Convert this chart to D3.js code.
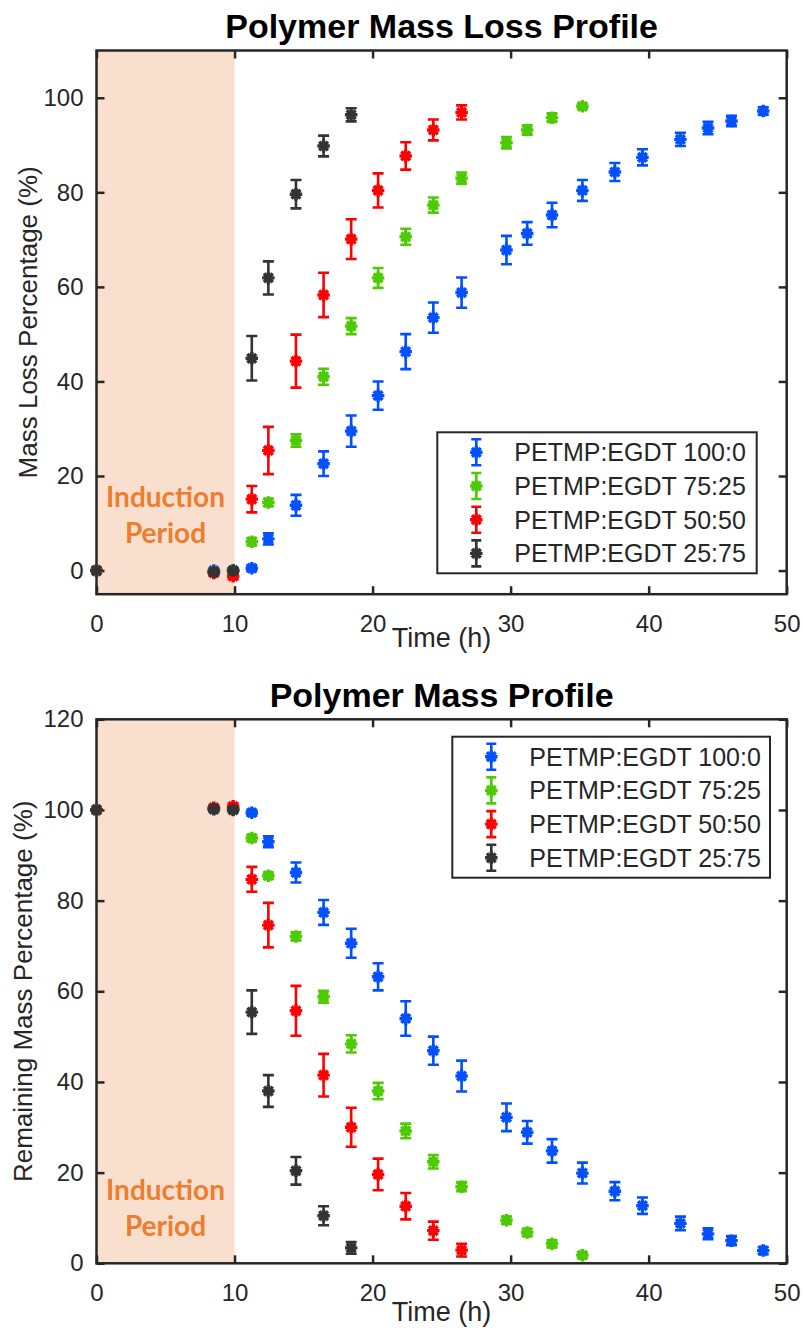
<!DOCTYPE html>
<html>
<head>
<meta charset="utf-8">
<script src="https://cdn.jsdelivr.net/npm/d3@7"></script>
<style>
  body { margin: 0; background: #fff; }
  text { font-family: "Liberation Sans", Arial, sans-serif; fill: #262626; }
</style>
</head>
<body>
<div id="chart"></div>
<script>
// sampling times (h) shared by all series; each series stops earlier
const times = [0, 8.5, 9.9, 11.25, 12.45, 14.45, 16.45, 18.45, 20.4, 22.4, 24.4, 26.45,
  29.7, 31.2, 33.0, 35.2, 37.55, 39.55, 42.3, 44.3, 46.0, 48.3];

const seriesNames = ['PETMP:EGDT 100:0', 'PETMP:EGDT 75:25', 'PETMP:EGDT 50:50', 'PETMP:EGDT 25:75'];
const seriesColors = ['#0050ff', '#4ccc00', '#ff0000', '#333333'];

// mass loss (%) and std dev
const loss100 = [0, 0, 0, 0.5, 6.7, 13.8, 22.6, 29.5, 37.0, 46.3, 53.5, 58.8, 67.8, 71.3, 75.2, 80.4, 84.3, 87.4, 91.2, 93.6, 95.1, 97.2];
const lossErr100 = [0, 0.3, 0.3, 0.6, 1.2, 2.2, 2.6, 3.3, 3.0, 3.7, 3.2, 3.2, 3.0, 2.4, 2.6, 2.2, 1.9, 1.7, 1.4, 1.3, 1.1, 0.8];
const loss75 = [0, -0.3, 0, 6.1, 14.4, 27.5, 41.0, 51.7, 61.9, 70.6, 77.3, 83.0, 90.5, 93.2, 95.8, 98.2];
const lossErr75 = [0, 0.3, 0.3, 0.8, 0.8, 1.3, 1.7, 1.7, 2.1, 1.7, 1.6, 1.2, 1.2, 1.0, 0.9, 0.6];
const loss50 = [0, -0.5, -1.2, 15.1, 25.4, 44.3, 58.3, 70.1, 80.4, 87.7, 93.2, 96.9];
const lossErr50 = [0, 0.5, 0.6, 2.8, 5.0, 5.6, 4.7, 4.2, 3.6, 2.9, 2.2, 1.5];
const loss25 = [0, -0.3, 0, 44.9, 61.9, 79.6, 89.8, 96.4];
const lossErr25 = [0, 0.3, 0.4, 4.7, 3.5, 3.0, 2.2, 1.4];

// remaining mass (%) and std dev
const mass100 = [100, 100.2, 100.2, 99.4, 93.0, 86.2, 77.4, 70.6, 63.2, 54.0, 46.9, 41.3, 32.2, 28.9, 24.8, 19.9, 15.9, 12.7, 8.8, 6.5, 5.0, 2.8];
const massErr100 = [0, 0.3, 0.3, 0.6, 1.2, 2.2, 2.75, 3.2, 3.0, 3.8, 3.1, 3.4, 3.05, 2.5, 2.6, 2.3, 2.0, 1.8, 1.5, 1.2, 1.0, 0.8];
const mass75 = [100, 100.2, 100.2, 93.8, 85.5, 72.1, 58.8, 48.4, 38.0, 29.2, 22.4, 16.9, 9.5, 6.8, 4.3, 1.8];
const massErr75 = [0, 0.3, 0.3, 0.7, 0.7, 0.9, 1.3, 1.9, 1.8, 1.6, 1.5, 1.0, 0.8, 0.8, 0.8, 0.6];
const mass50 = [100, 100.5, 100.8, 84.7, 74.6, 55.7, 41.5, 30.0, 19.6, 12.6, 7.2, 2.9];
const massErr50 = [0, 0.5, 0.6, 2.75, 4.9, 5.5, 4.7, 4.3, 3.5, 2.9, 2.0, 1.4];
const mass25 = [100, 100.2, 100, 55.4, 38.0, 20.4, 10.5, 3.4];
const massErr25 = [0, 0.3, 0.3, 4.8, 3.5, 3.05, 2.1, 1.3];

const xTicks = [0, 10, 20, 30, 40, 50];
const inductionEnd = 10;

const width = 803;
const height = 1331;

const svg = d3.select('#chart')
  .append('svg')
  .attr('width', width)
  .attr('height', height);

// 8-armed asterisk like matlab's '*' marker
const asterisk = {
  draw(ctx, size) {
    const r = Math.sqrt(size) / 2;
    for (let k = 0; k < 4; k++) {
      const a = k * Math.PI / 4;
      ctx.moveTo(-r * Math.cos(a), -r * Math.sin(a));
      ctx.lineTo(r * Math.cos(a), r * Math.sin(a));
    }
  }
};
const marker = d3.symbol().type(asterisk).size(156);

function build(values, errs) {
  return values.map((vals, i) => vals.map((v, j) => ({ t: times[j], v: v, e: errs[i][j], s: i })));
}

function drawPanel(cfg) {
  const x = d3.scaleLinear().domain([0, 50]).range([96.5, 786.7]);
  const y = d3.scaleLinear().domain(cfg.yDomain).range([cfg.bottom, cfg.top]);
  const g = svg.append('g');

  // induction period band
  g.append('rect')
    .attr('x', x(0))
    .attr('y', cfg.top)
    .attr('width', x(inductionEnd) - x(0))
    .attr('height', cfg.bottom - cfg.top)
    .attr('fill', '#f9dfcd');

  g.append('text')
    .attr('x', x(inductionEnd / 2))
    .attr('y', cfg.induct)
    .attr('text-anchor', 'middle')
    .style('font-family', 'Lato, "Open Sans", sans-serif')
    .style('font-weight', 'bold')
    .style('font-size', '28px')
    .style('fill', '#ed7d31')
    .selectAll('tspan')
    .data(['Induction', 'Period'])
    .enter()
    .append('tspan')
      .attr('x', x(inductionEnd / 2))
      .attr('dy', (d, i) => i === 0 ? 0 : 36)
      .text(d => d);

  // axes: ticks point inward on all four sides
  g.append('g')
    .attr('transform', 'translate(' + x(0) + ',0)')
    .call(d3.axisLeft(y).tickValues(cfg.yTicks).tickSizeInner(-8).tickSizeOuter(0).tickPadding(13));
  g.append('g')
    .attr('transform', 'translate(0,' + cfg.bottom + ')')
    .call(d3.axisBottom(x).tickValues(xTicks).tickSizeInner(-8).tickSizeOuter(0).tickPadding(21));
  g.append('g')
    .attr('transform', 'translate(' + x(50) + ',0)')
    .call(d3.axisRight(y).tickValues(cfg.yTicks).tickSizeInner(-8).tickSizeOuter(0).tickFormat(''));
  g.append('g')
    .attr('transform', 'translate(0,' + cfg.top + ')')
    .call(d3.axisTop(x).tickValues(xTicks).tickSizeInner(-8).tickSizeOuter(0).tickFormat(''));

  g.selectAll('.domain').remove();
  g.selectAll('.tick line').attr('stroke', '#262626').attr('stroke-width', 2.5);
  g.selectAll('.tick text')
    .style('font-family', '"Liberation Sans", Arial, sans-serif')
    .style('font-size', '24px')
    .attr('fill', '#262626');

  g.append('rect')
    .attr('x', x(0))
    .attr('y', cfg.top)
    .attr('width', x(50) - x(0))
    .attr('height', cfg.bottom - cfg.top)
    .attr('fill', 'none')
    .attr('stroke', '#262626')
    .attr('stroke-width', 2.5);

  // error bars + markers
  const pts = build(cfg.values, cfg.errs);
  const sg = g.selectAll('.series')
    .data(pts)
    .enter()
    .append('g')
    .attr('class', 'series')
    .attr('stroke', (d, i) => seriesColors[i])
    .attr('stroke-width', 2.6)
    .attr('fill', 'none');

  const cap = 5.5;
  sg.selectAll('.eb')
    .data(d => d)
    .enter()
    .append('path')
    .attr('class', 'eb')
    .attr('d', d => {
      const p = d3.path();
      const cx = x(d.t), y0 = y(d.v + d.e), y1 = y(d.v - d.e);
      p.moveTo(cx, y0); p.lineTo(cx, y1);
      p.moveTo(cx - cap, y0); p.lineTo(cx + cap, y0);
      p.moveTo(cx - cap, y1); p.lineTo(cx + cap, y1);
      return p.toString();
    });

  sg.selectAll('.mk')
    .data(d => d)
    .enter()
    .append('path')
    .attr('class', 'mk')
    .attr('stroke-width', 3.4)
    .attr('transform', d => 'translate(' + x(d.t) + ',' + y(d.v) + ')')
    .attr('d', marker);

  // legend
  const lg = g.append('g').attr('transform', 'translate(' + cfg.legend[0] + ',' + cfg.legend[1] + ')');
  lg.append('rect')
    .attr('width', cfg.legend[2])
    .attr('height', 141)
    .attr('fill', '#fff')
    .attr('stroke', '#262626')
    .attr('stroke-width', 2);
  const row = lg.selectAll('.row')
    .data(seriesNames)
    .enter()
    .append('g')
    .attr('class', 'row')
    .attr('transform', (d, i) => 'translate(0,' + (20 + i * 33.7) + ')');
  row.append('path')
    .attr('stroke', (d, i) => seriesColors[i])
    .attr('stroke-width', 2.6)
    .attr('fill', 'none')
    .attr('d', () => {
      const p = d3.path();
      const cx = 39;
      p.moveTo(cx, -13); p.lineTo(cx, 13);
      p.moveTo(cx - 5, -13); p.lineTo(cx + 5, -13);
      p.moveTo(cx - 5, 13); p.lineTo(cx + 5, 13);
      return p.toString();
    });
  row.append('path')
    .attr('stroke', (d, i) => seriesColors[i])
    .attr('stroke-width', 3.4)
    .attr('fill', 'none')
    .attr('transform', 'translate(39,0)')
    .attr('d', marker);
  row.append('text')
    .attr('x', 77)
    .attr('dy', '0.36em')
    .style('font-size', '25px')
    .text(d => d);

  // titles and labels
  g.append('text')
    .attr('x', (x(0) + x(50)) / 2)
    .attr('y', cfg.titleY)
    .attr('text-anchor', 'middle')
    .style('font-size', '34px')
    .style('font-weight', 'bold')
    .style('fill', '#000')
    .text(cfg.title);

  g.append('text')
    .attr('x', (x(0) + x(50)) / 2)
    .attr('y', cfg.xLabelY)
    .attr('text-anchor', 'middle')
    .style('font-size', '27px')
    .text('Time (h)');

  g.append('text')
    .attr('transform', 'translate(' + cfg.yLabelX + ',' + ((cfg.top + cfg.bottom) / 2) + ') rotate(-90)')
    .attr('text-anchor', 'middle')
    .style('font-size', '26px')
    .text(cfg.yLabel);
}

drawPanel({
  title: 'Polymer Mass Loss Profile',
  titleY: 38,
  yLabel: 'Mass Loss Percentage (%)',
  yLabelX: 37,
  xLabelY: 647,
  top: 50.5,
  bottom: 594.2,
  yDomain: [-5, 110],
  yTicks: [0, 20, 40, 60, 80, 100],
  induct: 507,
  legend: [437.3, 432.3, 319.4],
  values: [loss100, loss75, loss50, loss25],
  errs: [lossErr100, lossErr75, lossErr50, lossErr25]
});

drawPanel({
  title: 'Polymer Mass Profile',
  titleY: 706.5,
  yLabel: 'Remaining Mass Percentage (%)',
  yLabelX: 32,
  xLabelY: 1321,
  top: 719.3,
  bottom: 1263.3,
  yDomain: [0, 120],
  yTicks: [0, 20, 40, 60, 80, 100, 120],
  induct: 1200,
  legend: [452.3, 736.7, 317.7],
  values: [mass100, mass75, mass50, mass25],
  errs: [massErr100, massErr75, massErr50, massErr25]
});
</script>
</body>
</html>
